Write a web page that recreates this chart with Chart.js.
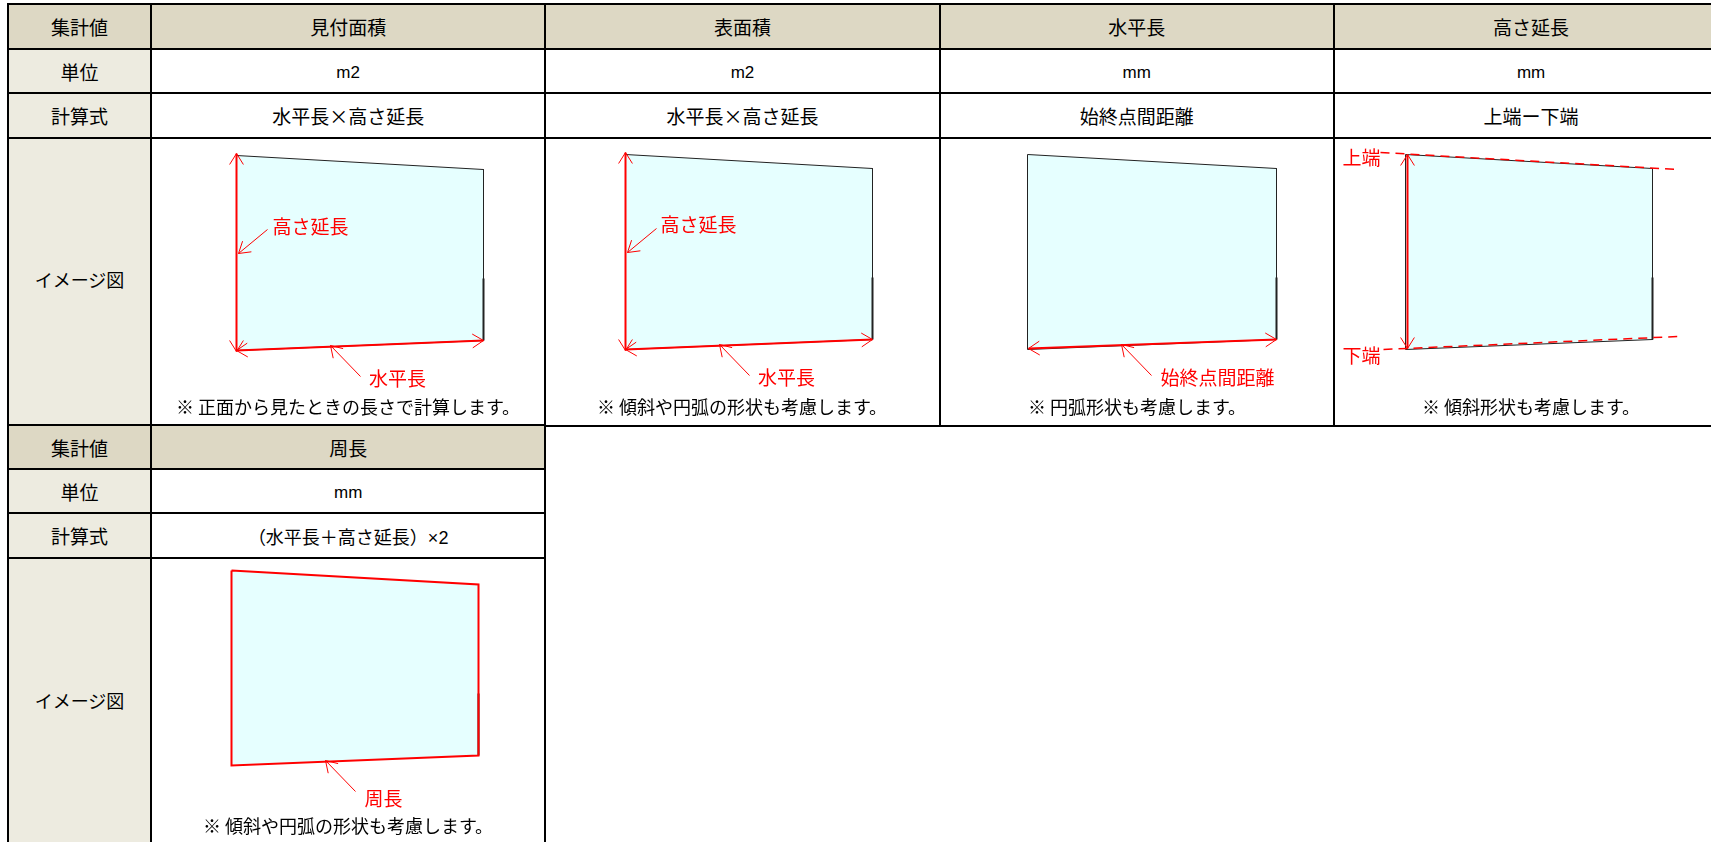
<!DOCTYPE html>
<html lang="ja">
<head>
<meta charset="utf-8">
<title>集計値</title>
<script src="https://cdn.jsdelivr.net/npm/chart.js@4/dist/chart.umd.min.js"></script>
<style>
  html, body { margin: 0; padding: 0; width: 1711px; height: 842px; overflow: hidden; background: #fff; }
  body { position: relative; font: 18px "Noto Sans CJK JP", sans-serif; color: #000; }
  table { position: absolute; left: 7px; border-collapse: collapse; table-layout: fixed; }
  td { border: 2px solid #000; padding: 0; text-align: center; vertical-align: middle; font-size: 19px; }
  td.name { background: #edebe0; }
  td.head { background: #ddd8c4; }
  td.unit { font: 17px "Liberation Sans", sans-serif; padding-top: 3px; }
  td.image { font-size: 18px; }
  td.long { font: 18px "Liberation Sans", "Noto Sans CJK JP", sans-serif; }
  .diagram { position: absolute; }
  .note { position: absolute; left: 0; right: 0; line-height: 22px; text-align: center; }
</style>
</head>
<body>
<table id="tableTop" style="top:3px"></table>
<table id="tableBottom" style="top:424px"></table>
<script>
//Table texts
const rowNames = ['集計値', '単位', '計算式', 'イメージ図'];
const metricNames = ['見付面積', '表面積', '水平長', '高さ延長', '周長'];
const units = ['m2', 'm2', 'mm', 'mm', 'mm'];
const formulas = ['水平長×高さ延長', '水平長×高さ延長', '始終点間距離', '上端ー下端', '（水平長＋高さ延長）×2'];
const notes = [
  '※ 正面から見たときの長さで計算します。',
  '※ 傾斜や円弧の形状も考慮します。',
  '※ 円弧形状も考慮します。',
  '※ 傾斜形状も考慮します。',
  '※ 傾斜や円弧の形状も考慮します。'
];

//Diagram values, in px-sized units measured from the top left corner of the panel
const panelTopX = [0, 247];
const panelTopY = [0, 14];
const panelBottomX = [0, 247];
const panelBottomY = [195, 185];
const widePanelX = [0, 249];
const heightArrowX = [0, 0];
const heightArrowY = [-2, 196];
const widthArrowX = [0, 247];
const widthArrowY = [195, 185];
const wideArrowX = [1, 249];
const wideArrowY = [194, 185];
const edgeArrowX = [2, 2];
const edgeArrowY = [0, 194];
const heightLeaderX = [31, 2];
const heightLeaderY = [74, 98];
const widthLeaderX = [124, 94];
const widthLeaderY = [221, 190];
const upperDashX = [-25, 273];
const upperDashY = [-2, 15];
const lowerDashX = [-22, 273];
const lowerDashY = [195, 182];

//Where each panel sits: cell origin on the page and panel origin inside the cell
const cellLeft = [152, 546, 941, 1335, 152];
const cellTop = [139, 139, 139, 139, 559];
const panelOffsetX = [84.5, 79.5, 86.5, 70.5, 79.5];
const panelOffsetY = [16.5, 15.5, 15.5, 15.5, 11.5];
const noteTop = [256, 256, 256, 256, 255];
const CELL_W = 392;
const CELL_H = 286;
const RED = '#ff0000';

//Builds one of the two tables, first column then one column per metric
function buildTable(id, first, last, heights, imagePad) {
  const cols = metricNames.slice(first, last);
  const rows = [
    [rowNames[0], cols, 'head'],
    [rowNames[1], units.slice(first, last), 'unit'],
    [rowNames[2], formulas.slice(first, last), ''],
    [rowNames[3], cols.map(() => ''), '']
  ];
  let html = '<colgroup><col style="width:143px">' + cols.map(() => '<col style="width:394.3px">').join('') + '</colgroup>';
  rows.forEach((r, i) => {
    const nameClass = i == 0 ? 'head' : (i == 3 ? 'name image' : 'name');
    const pad = i == 3 ? `padding-bottom:${imagePad}px` : '';
    html += `<tr style="height:${heights[i]}px"><td class="${nameClass}" style="${pad}">${r[0]}</td>`;
    //the long formula only fits with the narrow latin × of the original
    html += r[1].map(t => `<td class="${t.length > 10 ? 'long' : r[2]}">${t}</td>`).join('') + '</tr>';
  });
  const table = document.getElementById(id);
  table.style.width = 143 + cols.length * 394.3 + 'px';
  table.innerHTML = html;
}
buildTable('tableTop', 0, 4, [45, 44, 45, 288], 6);
buildTable('tableBottom', 4, 5, [44, 44, 45, 300], 16);

//Plain polyline through the chart's scales
function line(xs, ys, color, width, extra) {
  return Object.assign({
    data: xs.map((x, i) => ({x: x, y: ys[i]})),
    showLine: true, pointRadius: 0, tension: 0, fill: false,
    borderColor: color, borderWidth: width
  }, extra);
}

//Two barbs of an arrow head, taken from the line direction
function head(fromX, fromY, tipX, tipY) {
  const a = Math.atan2(fromY - tipY, fromX - tipX);
  const d = 0.56, len = 13;
  return line(
    [tipX + len * Math.cos(a - d), tipX, tipX + len * Math.cos(a + d)],
    [tipY + len * Math.sin(a - d), tipY, tipY + len * Math.sin(a + d)],
    RED, 1
  );
}

function leader(xs, ys) {
  return [line(xs, ys, RED, 1), head(xs[0], ys[0], xs[1], ys[1])];
}

function doubleArrow(xs, ys) {
  return [line(xs, ys, RED, 2), head(xs[0], ys[0], xs[1], ys[1]), head(xs[1], ys[1], xs[0], ys[0])];
}

//The panel itself: fill between top and bottom edge plus the outline
function panel(xs, outlineColor, outlineWidth) {
  const outlineX = [xs[0], xs[1], xs[1], xs[0], xs[0]];
  const outlineY = [panelTopY[0], panelTopY[1], panelBottomY[1], panelBottomY[0], panelTopY[0]];
  return [
    line(outlineX, outlineY, outlineColor, outlineWidth),
    line([xs[1], xs[1]], [123, panelBottomY[1]], '#222', 2),
    line(xs, panelTopY, 'rgba(0,0,0,0)', 0, {fill: '+1', backgroundColor: '#e6ffff'}),
    line(xs, panelBottomY, 'rgba(0,0,0,0)', 0)
  ];
}

const diagrams = [
  {
    datasets: [...doubleArrow(heightArrowX, heightArrowY), ...doubleArrow(widthArrowX, widthArrowY),
      ...leader(heightLeaderX, heightLeaderY), ...leader(widthLeaderX, widthLeaderY), ...panel(panelTopX, '#222', 1)],
    callouts: [['高さ延長', 74, 71], ['水平長', 161, 223]]
  },
  {
    datasets: [...doubleArrow(heightArrowX, heightArrowY), ...doubleArrow(widthArrowX, widthArrowY),
      ...leader(heightLeaderX, heightLeaderY), ...leader(widthLeaderX, widthLeaderY), ...panel(panelTopX, '#222', 1)],
    callouts: [['高さ延長', 73, 70], ['水平長', 161, 223]]
  },
  {
    datasets: [...doubleArrow(wideArrowX, wideArrowY), ...leader(widthLeaderX, widthLeaderY), ...panel(widePanelX, '#222', 1)],
    callouts: [['始終点間距離', 190, 223]]
  },
  {
    datasets: [...doubleArrow(edgeArrowX, edgeArrowY),
      line(upperDashX, upperDashY, RED, 1.5, {borderDash: [9, 6]}),
      line(lowerDashX, lowerDashY, RED, 1.5, {borderDash: [9, 6]}),
      ...panel(panelTopX, '#222', 1)],
    callouts: [['上端', -44, 3], ['下端', -44, 201]]
  },
  {
    datasets: [...leader(widthLeaderX, widthLeaderY), ...panel(panelTopX, RED, 2)],
    callouts: [['周長', 152, 228]]
  }
];

//Draws the red callouts at their scale position
const calloutPlugin = {
  id: 'callouts',
  afterDatasetsDraw(chart, args, opts) {
    const ctx = chart.ctx;
    ctx.save();
    ctx.font = '19px "Noto Sans CJK JP"';
    ctx.fillStyle = RED;
    ctx.textAlign = 'center';
    ctx.textBaseline = 'middle';
    opts.items.forEach(c => ctx.fillText(c[0], chart.scales.x.getPixelForValue(c[1]), chart.scales.y.getPixelForValue(c[2])));
    ctx.restore();
  }
};

diagrams.forEach((d, i) => {
  const box = document.createElement('div');
  box.className = 'diagram';
  box.style.cssText = `left:${cellLeft[i]}px;top:${cellTop[i]}px;width:${CELL_W}px;height:${CELL_H}px`;
  const canvas = document.createElement('canvas');
  canvas.width = CELL_W;
  canvas.height = CELL_H;
  canvas.style.cssText = 'display:block;position:absolute;left:0;top:0';
  box.appendChild(canvas);
  const note = document.createElement('div');
  note.className = 'note';
  note.style.top = noteTop[i] + 'px';
  note.textContent = notes[i];
  box.appendChild(note);
  document.body.appendChild(box);

  new Chart(canvas, {
    type: 'scatter',
    data: {datasets: d.datasets},
    plugins: [calloutPlugin],
    options: {
      responsive: false,
      animation: false,
      events: [],
      layout: {padding: 0},
      plugins: {legend: {display: false}, tooltip: {enabled: false}, callouts: {items: d.callouts}},
      scales: {
        x: {type: 'linear', display: false, min: -panelOffsetX[i], max: CELL_W - panelOffsetX[i]},
        y: {type: 'linear', display: false, reverse: true, min: -panelOffsetY[i], max: CELL_H - panelOffsetY[i]}
      }
    }
  });
});
</script>
</body>
</html>
